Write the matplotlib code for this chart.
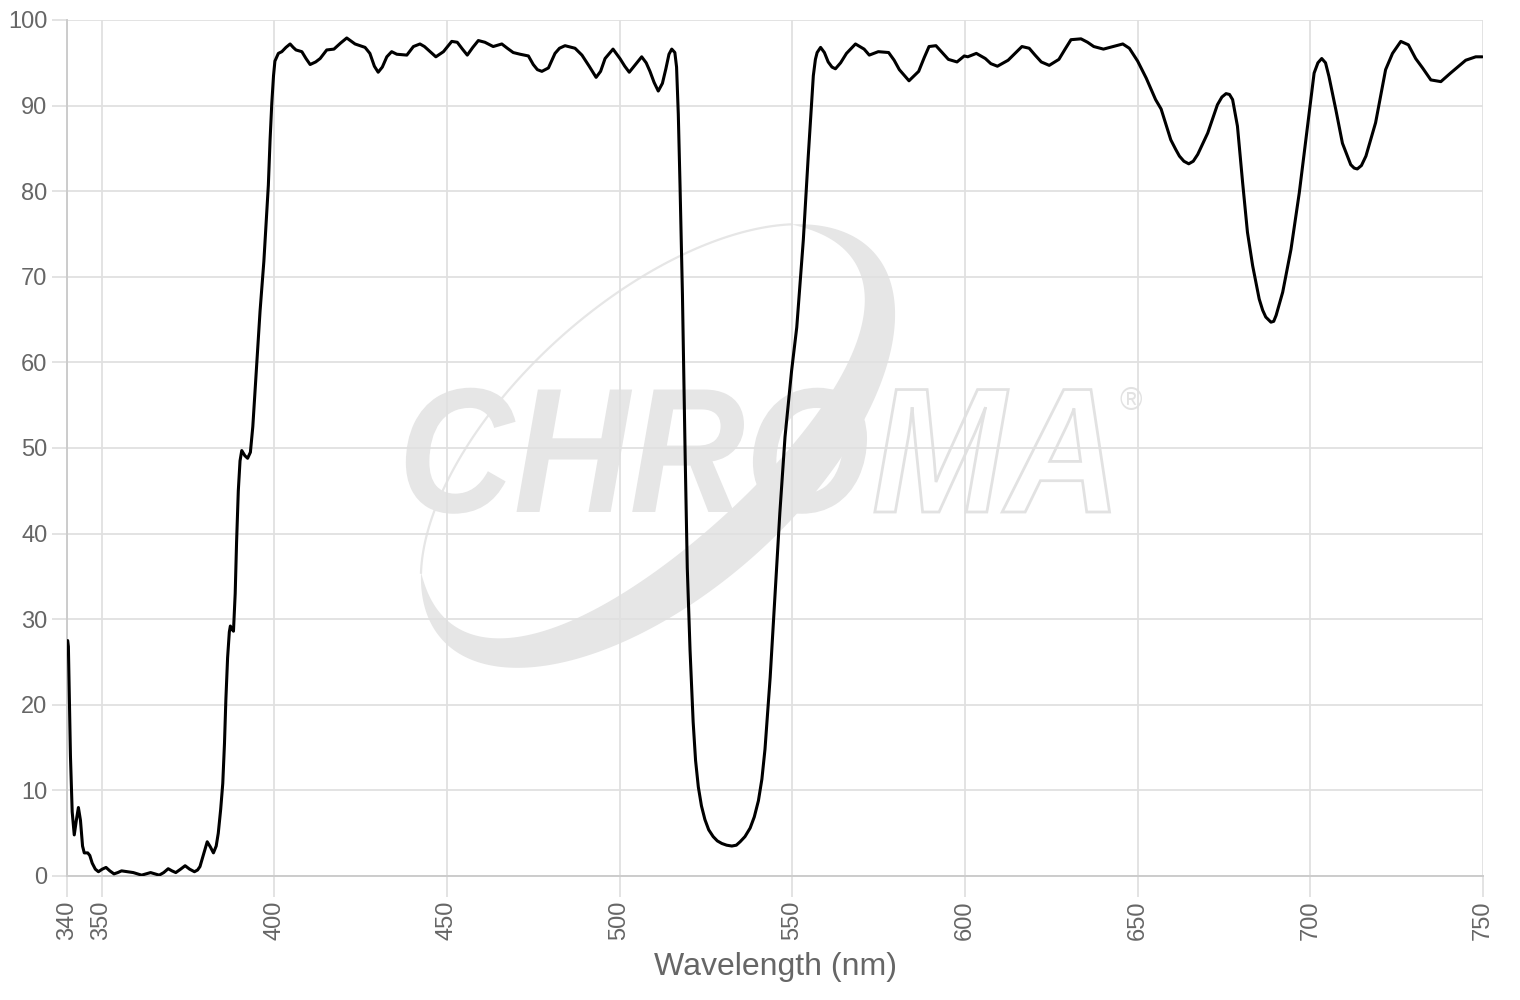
import numpy as np
import matplotlib
matplotlib.use("Agg")
import matplotlib.pyplot as plt
from matplotlib.textpath import TextPath
from matplotlib.patches import PathPatch, Polygon
from matplotlib.font_manager import FontProperties
from matplotlib.transforms import Affine2D

# ---- data (wavelength nm, transmission %) ----
wavelength = [
    340.2, 340.4, 341.0, 341.5, 342.1, 342.7, 343.3, 343.9, 344.5, 345.0,
    346.0, 346.6, 347.3, 348.2, 349.1, 350.2, 351.3, 352.4, 353.6, 354.7,
    355.8, 357.5, 359.2, 360.4, 361.6, 362.9, 364.2, 365.4, 366.7, 368.0,
    369.3, 370.4, 371.5, 372.9, 374.2, 375.5, 376.9, 377.8, 378.5, 379.6,
    380.6, 381.5, 382.4, 383.2, 383.8, 384.5, 385.1, 385.6, 386.0, 386.5,
    387.0, 387.3, 387.8, 388.2, 388.7, 389.1, 389.6, 390.1, 390.6, 391.5,
    392.3, 393.1, 393.8, 394.4, 395.2, 395.9, 397.0, 398.3, 398.8, 399.3,
    399.8, 400.2, 401.2, 402.2, 403.4, 404.6, 405.5, 406.3, 408.0, 409.2,
    410.4, 412.0, 413.3, 415.2, 417.3, 419.2, 421.0, 423.4, 426.3, 427.7,
    429.0, 430.1, 431.3, 432.6, 434.0, 435.5, 438.4, 440.3, 442.2, 443.5,
    444.6, 446.8, 449.0, 451.4, 453.0, 454.5, 455.9, 457.5, 459.1, 461.0,
    463.4, 465.9, 467.5, 469.2, 471.2, 473.6, 475.0, 476.2, 477.5, 479.4,
    481.3, 482.6, 484.2, 487.1, 489.1, 491.2, 493.2, 494.5, 495.8, 498.1,
    500.1, 501.5, 502.8, 504.6, 506.4, 507.7, 508.8, 510.0, 511.2, 512.4,
    513.4, 514.3, 515.1, 516.0, 516.5, 517.0, 517.5, 518.2, 519.0, 519.6,
    520.4, 521.3, 522.0, 522.8, 523.7, 524.7, 525.8, 527.1, 528.3, 529.6,
    531.0, 532.5, 533.8, 534.9, 536.3, 537.8, 539.0, 540.2, 541.2, 542.1,
    543.6, 545.0, 546.4, 547.9, 549.8, 551.3, 553.2, 554.6, 556.1, 556.7,
    557.2, 558.2, 559.3, 560.4, 561.5, 562.5, 564.0, 565.7, 568.3, 570.8,
    572.3, 574.9, 577.9, 579.5, 581.0, 583.8, 586.6, 588.2, 589.6, 591.6,
    593.4, 595.2, 597.7, 599.8, 600.8, 603.3, 605.9, 607.5, 609.4, 612.5,
    614.5, 616.5, 618.6, 620.3, 622.1, 624.4, 627.2, 629.0, 630.7, 633.6,
    635.5, 637.3, 640.1, 642.9, 645.7, 647.6, 650.0, 652.5, 655.2, 656.8,
    658.2, 659.6, 661.0, 662.1, 663.4, 664.8, 666.1, 667.4, 670.3, 673.1,
    674.4, 675.6, 676.6, 677.5, 678.9, 680.4, 681.8, 683.3, 685.2, 686.2,
    687.1, 688.6, 689.4, 690.1, 692.0, 694.4, 696.8, 699.2, 701.1, 702.2,
    703.3, 704.4, 705.4, 707.4, 709.3, 711.7, 712.7, 713.6, 714.8, 716.1,
    718.9, 721.8, 723.8, 726.2, 728.4, 730.5, 732.5, 734.9, 737.8, 740.6,
    745.0, 747.9, 749.8,
]
transmission = [
    27.5, 26.8, 14.0, 7.5, 4.8, 6.5, 8.0, 6.5, 3.5, 2.7,
    2.7, 2.4, 1.5, 0.8, 0.5, 0.8, 1.0, 0.6, 0.25, 0.4,
    0.6, 0.5, 0.4, 0.25, 0.1, 0.25, 0.4, 0.25, 0.1, 0.4,
    0.85, 0.6, 0.4, 0.8, 1.2, 0.8, 0.5, 0.7, 1.1, 2.6,
    4.0, 3.4, 2.7, 3.5, 5.0, 7.8, 10.8, 15.5, 20.6, 25.5,
    28.5, 29.2, 28.8, 28.6, 33.0, 39.0, 45.0, 48.5, 49.7, 49.1,
    48.8, 49.5, 52.5, 56.4, 61.5, 66.0, 71.8, 80.7, 86.0, 90.3,
    93.5, 95.2, 96.1, 96.3, 96.8, 97.2, 96.8, 96.5, 96.3, 95.5,
    94.8, 95.1, 95.5, 96.5, 96.6, 97.3, 97.9, 97.2, 96.8, 96.1,
    94.6, 93.9, 94.5, 95.7, 96.3, 96.0, 95.9, 96.9, 97.2, 96.9,
    96.5, 95.7, 96.3, 97.5, 97.4, 96.6, 95.9, 96.8, 97.6, 97.4,
    96.9, 97.2, 96.7, 96.2, 96.0, 95.8, 94.8, 94.2, 94.0, 94.4,
    96.1, 96.7, 97.0, 96.7, 95.9, 94.6, 93.3, 94.0, 95.5, 96.6,
    95.5, 94.6, 93.9, 94.8, 95.7, 95.0, 94.0, 92.7, 91.7, 92.6,
    94.3, 96.0, 96.6, 96.2, 94.5, 89.0, 80.7, 67.9, 48.8, 36.0,
    26.4, 18.0, 13.5, 10.4, 8.2, 6.6, 5.4, 4.6, 4.1, 3.8,
    3.6, 3.5, 3.6, 4.0, 4.6, 5.6, 6.9, 8.8, 11.3, 14.8,
    23.2, 32.8, 42.4, 51.3, 59.0, 64.1, 74.3, 83.9, 93.5, 95.4,
    96.2, 96.8, 96.2, 95.1, 94.5, 94.3, 95.0, 96.1, 97.2, 96.6,
    95.9, 96.3, 96.2, 95.3, 94.2, 92.9, 94.0, 95.6, 96.9, 97.0,
    96.2, 95.4, 95.1, 95.8, 95.7, 96.1, 95.5, 94.9, 94.6, 95.3,
    96.1, 96.9, 96.7, 95.9, 95.1, 94.7, 95.4, 96.6, 97.7, 97.8,
    97.4, 96.9, 96.6, 96.9, 97.2, 96.7, 95.2, 93.2, 90.7, 89.6,
    87.8, 86.0, 84.9, 84.1, 83.5, 83.2, 83.5, 84.3, 86.8, 90.1,
    91.0, 91.4, 91.3, 90.7, 87.6, 81.0, 75.2, 71.3, 67.4, 66.1,
    65.3, 64.7, 64.8, 65.5, 68.2, 73.2, 79.8, 87.6, 93.8, 95.0,
    95.5, 95.0, 93.4, 89.5, 85.6, 83.1, 82.7, 82.6, 83.0, 84.1,
    88.0, 94.2, 96.1, 97.5, 97.1, 95.5, 94.4, 93.0, 92.8, 93.8,
    95.3, 95.7, 95.7,
]
x_ticks = [340, 350, 400, 450, 500, 550, 600, 650, 700, 750]
y_ticks = [0, 10, 20, 30, 40, 50, 60, 70, 80, 90, 100]

GRID = "#e0e0e0"
TEXT = "#666666"
plt.rcParams["font.family"] = ["Liberation Sans", "DejaVu Sans"]

fig = plt.figure(figsize=(15.2, 10), dpi=100)

# ---- watermark layer (pixel coordinates, y down) ----
wax = fig.add_axes([0, 0, 1, 1], zorder=0)
wax.set_xlim(0, 1520)
wax.set_ylim(1000, 0)
wax.axis("off")

mark = "#e6e6e6"
cx, cy, A, B = 658, 446, 290, 146
ang = np.deg2rad(41.8)
u = np.array([np.cos(ang), -np.sin(ang)])
v = np.array([np.sin(ang), np.cos(ang)])
t0, t1 = -0.55, np.pi + 0.45
t = np.linspace(t0, t1, 200)
w = 50 * np.sin((t - t0) / (t1 - t0) * np.pi) ** 0.9
outer = np.c_[cx + A * np.cos(t) * u[0] + B * np.sin(t) * v[0],
              cy + A * np.cos(t) * u[1] + B * np.sin(t) * v[1]]
inner = np.c_[cx + (A - w) * np.cos(t) * u[0] + (B - w) * np.sin(t) * v[0],
              cy + (A - w) * np.cos(t) * u[1] + (B - w) * np.sin(t) * v[1]]
wax.add_patch(Polygon(np.vstack([outer, inner[::-1]]), closed=True,
                      facecolor=mark, edgecolor="none"))
tt = np.linspace(t1, t0 + 2 * np.pi, 120)
wax.plot(cx + A * np.cos(tt) * u[0] + B * np.sin(tt) * v[0],
         cy + A * np.cos(tt) * u[1] + B * np.sin(tt) * v[1],
         color=mark, lw=1.6)

fp = FontProperties(family="Liberation Sans", weight="bold", style="italic")
p1 = TextPath((0, 0), "CHRO", size=178, prop=fp)
p2 = TextPath((0, 0), "MA", size=178, prop=fp)
wax.add_patch(PathPatch(p1, facecolor=mark, edgecolor="none",
                        transform=Affine2D().scale(0.9, -1).translate(398, 512) + wax.transData))
wax.add_patch(PathPatch(p2, facecolor="none", edgecolor="#e2e2e2", lw=2,
                        transform=Affine2D().scale(0.9, -1).translate(872, 512) + wax.transData))
wax.text(1131, 402, "®", fontsize=22, color="#e2e2e2", ha="center", va="center")

# ---- main chart ----
ax = fig.add_axes([67 / 1520, 124 / 1000, 1416 / 1520, 856 / 1000], zorder=1)
ax.patch.set_alpha(0)
ax.plot(wavelength, transmission, color="black", lw=2.2,
        solid_joinstyle="round", solid_capstyle="round", zorder=3)

ax.set_xlim(340, 750)
ax.set_ylim(0, 100)
ax.set_xticks(x_ticks)
ax.set_yticks(y_ticks)
ax.grid(True, color=GRID, lw=1.3)
ax.set_axisbelow(True)

ax.tick_params(axis="x", length=15, width=1.3, color=GRID, pad=3,
               labelrotation=90, labelsize=17, labelcolor=TEXT)
ax.tick_params(axis="y", length=11, width=1.3, color=GRID, pad=3,
               labelsize=17, labelcolor=TEXT)

for s in ["top", "right"]:
    ax.spines[s].set_visible(False)
for s in ["left", "bottom"]:
    ax.spines[s].set_color("#cccccc")
    ax.spines[s].set_linewidth(1.4)

ax.set_xlabel("Wavelength (nm)", fontsize=23, color=TEXT, labelpad=8)

fig.savefig("out.png", dpi=100)
